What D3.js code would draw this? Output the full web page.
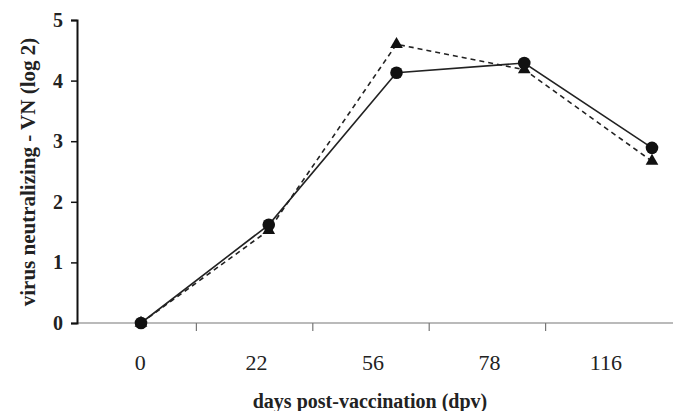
<!DOCTYPE html>
<html>
<head>
<meta charset="utf-8">
<script src="https://cdn.jsdelivr.net/npm/d3@7"></script>
<style>
  body { margin: 0; background: #fff; }
  text { font-family: "Liberation Serif", "Times New Roman", serif; }
</style>
</head>
<body>
<div id="vis-container"></div>
<script>
// days post-vaccination and VN titres (log 2)
const days = ["0", "22", "56", "78", "116"];
const circleVals = [0, 1.62, 4.13, 4.29, 2.89];
const triangleVals = [0, 1.53, 4.6, 4.18, 2.67];
const yTicks = [0, 1, 2, 3, 4, 5];

const width = 673;
const height = 411;

const svg = d3.select("#vis-container")
  .append("svg")
  .attr("width", width)
  .attr("height", height);

// axis categories (labels sit in bands, ticks between them)
const xBand = d3.scaleBand()
  .domain(days)
  .range([80, 662]);

// markers are spread a bit wider than the labels in the original
const xPt = d3.scalePoint()
  .domain(days)
  .range([141, 652]);

const y = d3.scaleLinear()
  .domain([0, 5])
  .range([323, 20]);

// x axis
svg.append("line")
  .attr("x1", 77).attr("x2", width)
  .attr("y1", y(0)).attr("y2", y(0))
  .attr("stroke", "#777").attr("stroke-width", 1.2);

svg.selectAll(".xtick")
  .data(days.slice(1))
  .enter()
  .append("line")
  .attr("class", "xtick")
  .attr("x1", d => xBand(d)).attr("x2", d => xBand(d))
  .attr("y1", y(0)).attr("y2", y(0) + 8)
  .attr("stroke", "#777").attr("stroke-width", 1.2);

svg.selectAll(".xlabel")
  .data(days)
  .enter()
  .append("text")
  .attr("class", "xlabel")
  .attr("x", d => xBand(d) + xBand.bandwidth() / 2 + 2)
  .attr("y", 370)
  .attr("text-anchor", "middle")
  .attr("font-size", "22px")
  .attr("fill", "#222")
  .text(d => d);

svg.append("text")
  .attr("x", 370)
  .attr("y", 408)
  .attr("text-anchor", "middle")
  .attr("font-size", "20px")
  .attr("font-weight", "bold")
  .attr("fill", "#222")
  .text("days post-vaccination (dpv)");

// y axis
svg.append("g")
  .attr("transform", "translate(77,0)")
  .call(d3.axisLeft(y).tickValues(yTicks).tickSize(6).tickPadding(8).tickFormat(d3.format("d")))
  .call(g => g.select(".domain").attr("stroke", "#111").attr("stroke-width", 2))
  .call(g => g.selectAll(".tick line").attr("stroke", "#111").attr("stroke-width", 1.5))
  .call(g => g.selectAll(".tick text")
    .attr("font-family", "Liberation Serif, serif")
    .attr("font-size", "20px")
    .attr("font-weight", "bold")
    .attr("fill", "#222"));

svg.append("text")
  .attr("transform", "translate(35,172) rotate(-90)")
  .attr("text-anchor", "middle")
  .attr("font-size", "21px")
  .attr("font-weight", "bold")
  .attr("fill", "#222")
  .text("virus neutralizing - VN (log 2)");

// lines
const lineGen = d3.line()
  .x((d, i) => xPt(days[i]))
  .y(d => y(d));

svg.append("path")
  .datum(triangleVals)
  .attr("d", lineGen)
  .attr("fill", "none")
  .attr("stroke", "#222")
  .attr("stroke-width", 1.6)
  .attr("stroke-dasharray", "5,4");

svg.append("path")
  .datum(circleVals)
  .attr("d", lineGen)
  .attr("fill", "none")
  .attr("stroke", "#222")
  .attr("stroke-width", 1.6);

// markers
svg.selectAll(".tri")
  .data(triangleVals)
  .enter()
  .append("path")
  .attr("class", "tri")
  .attr("transform", (d, i) => `translate(${xPt(days[i])},${y(d)})`)
  .attr("d", d3.symbol().type(d3.symbolTriangle).size(70))
  .attr("fill", "#111");

svg.selectAll(".dot")
  .data(circleVals)
  .enter()
  .append("circle")
  .attr("class", "dot")
  .attr("cx", (d, i) => xPt(days[i]))
  .attr("cy", d => y(d))
  .attr("r", 6.3)
  .attr("fill", "#111");
</script>
</body>
</html>
